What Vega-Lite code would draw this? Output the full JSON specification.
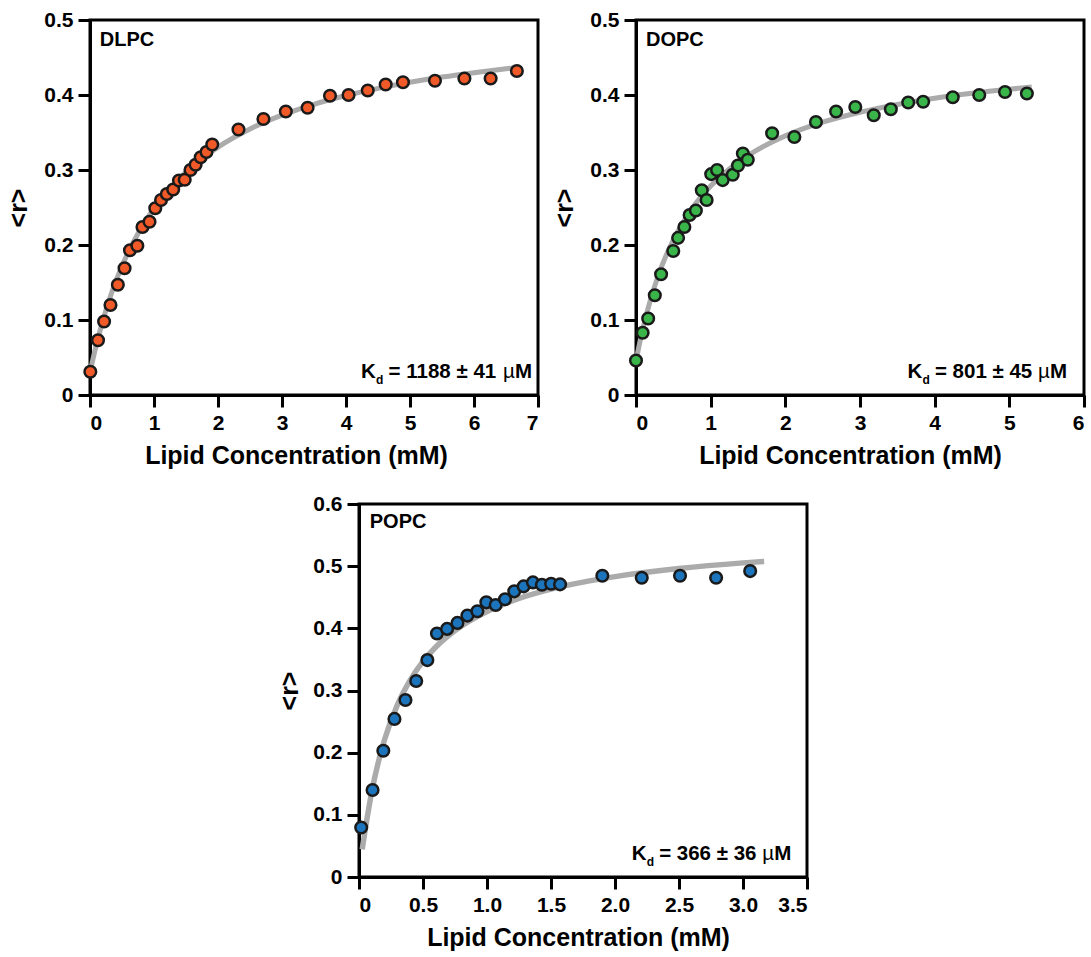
{
  "$schema": "https://vega.github.io/schema/vega-lite/v6.json",
  "background": "white",
  "padding": {"left": 5, "top": 7, "right": 5, "bottom": 5},
  "config": {
    "font": "Liberation Sans",
    "view": {"stroke": "black", "strokeWidth": 3},
    "axis": {"grid": false, "domainColor": "black", "domainWidth": 3, "tickColor": "black", "tickWidth": 3, "tickSize": 12, "labelFont": "Liberation Sans", "labelFontWeight": "bold", "labelFontSize": 21, "labelColor": "black", "labelPadding": 5, "titleFont": "Liberation Sans", "titleFontWeight": "bold", "titleFontSize": 25, "titleColor": "black"},
    "axisX": {"titlePadding": 10},
    "axisY": {"titlePadding": 12},
    "text": {"font": "Liberation Sans", "fontWeight": "bold", "color": "black"}
  },
  "datasets": {
    "dlpc": [
      {"x": 0.005, "y": 0.031}, {"x": 0.125, "y": 0.073}, {"x": 0.22, "y": 0.098}, {"x": 0.32, "y": 0.120}, {"x": 0.435, "y": 0.147}, {"x": 0.54, "y": 0.169}, {"x": 0.625, "y": 0.193}, {"x": 0.74, "y": 0.199}, {"x": 0.82, "y": 0.224}, {"x": 0.93, "y": 0.231}, {"x": 1.02, "y": 0.249}, {"x": 1.11, "y": 0.260}, {"x": 1.20, "y": 0.268}, {"x": 1.30, "y": 0.274}, {"x": 1.39, "y": 0.286}, {"x": 1.48, "y": 0.287}, {"x": 1.57, "y": 0.300}, {"x": 1.65, "y": 0.307}, {"x": 1.73, "y": 0.317}, {"x": 1.82, "y": 0.324}, {"x": 1.91, "y": 0.334}, {"x": 2.32, "y": 0.354}, {"x": 2.71, "y": 0.368}, {"x": 3.06, "y": 0.378}, {"x": 3.40, "y": 0.383}, {"x": 3.75, "y": 0.399}, {"x": 4.04, "y": 0.400}, {"x": 4.34, "y": 0.406}, {"x": 4.62, "y": 0.414}, {"x": 4.89, "y": 0.417}, {"x": 5.39, "y": 0.419}, {"x": 5.85, "y": 0.422}, {"x": 6.26, "y": 0.422}, {"x": 6.67, "y": 0.432}
    ],
    "dlpc_fit": [
      {"x": 0, "y": 0.030}, {"x": 0.05, "y": 0.0494}, {"x": 0.1, "y": 0.0672}, {"x": 0.2, "y": 0.099}, {"x": 0.3, "y": 0.1266}, {"x": 0.4, "y": 0.1507}, {"x": 0.5, "y": 0.1719}, {"x": 0.75, "y": 0.2154}, {"x": 1, "y": 0.2489}, {"x": 1.25, "y": 0.2756}, {"x": 1.5, "y": 0.2973}, {"x": 1.75, "y": 0.3153}, {"x": 2, "y": 0.3305}, {"x": 2.5, "y": 0.3547}, {"x": 3, "y": 0.3731}, {"x": 3.5, "y": 0.3876}, {"x": 4, "y": 0.3993}, {"x": 4.5, "y": 0.4089}, {"x": 5, "y": 0.417}, {"x": 5.5, "y": 0.4239}, {"x": 6, "y": 0.4298}, {"x": 6.5, "y": 0.435}, {"x": 6.7, "y": 0.4369}
    ],
    "dlpc_txt": [{"x": 0.153, "y": 0.4655, "name": "DLPC"}],
    "dlpc_kd": [{"x": 4.236, "y": 0.0222, "k": "K", "sub": "d", "rest": "= 1188 ± 41", "mu": "µ", "unit": "M"}],
    "dopc": [
      {"x": 0.0, "y": 0.046}, {"x": 0.089, "y": 0.083}, {"x": 0.163, "y": 0.102}, {"x": 0.252, "y": 0.133}, {"x": 0.336, "y": 0.161}, {"x": 0.499, "y": 0.192}, {"x": 0.564, "y": 0.2095}, {"x": 0.648, "y": 0.224}, {"x": 0.718, "y": 0.240}, {"x": 0.802, "y": 0.246}, {"x": 0.881, "y": 0.273}, {"x": 0.946, "y": 0.260}, {"x": 1.007, "y": 0.2945}, {"x": 1.086, "y": 0.300}, {"x": 1.161, "y": 0.2865}, {"x": 1.296, "y": 0.2936}, {"x": 1.366, "y": 0.306}, {"x": 1.431, "y": 0.322}, {"x": 1.497, "y": 0.3136}, {"x": 1.823, "y": 0.349}, {"x": 2.121, "y": 0.344}, {"x": 2.41, "y": 0.364}, {"x": 2.68, "y": 0.378}, {"x": 2.937, "y": 0.384}, {"x": 3.184, "y": 0.373}, {"x": 3.413, "y": 0.381}, {"x": 3.646, "y": 0.390}, {"x": 3.846, "y": 0.391}, {"x": 4.242, "y": 0.397}, {"x": 4.597, "y": 0.400}, {"x": 4.942, "y": 0.404}, {"x": 5.235, "y": 0.402}
    ],
    "dopc_fit": [
      {"x": 0, "y": 0.045}, {"x": 0.05, "y": 0.0697}, {"x": 0.1, "y": 0.0917}, {"x": 0.2, "y": 0.1291}, {"x": 0.3, "y": 0.1597}, {"x": 0.4, "y": 0.1852}, {"x": 0.5, "y": 0.2067}, {"x": 0.75, "y": 0.2485}, {"x": 1, "y": 0.2786}, {"x": 1.25, "y": 0.3015}, {"x": 1.5, "y": 0.3193}, {"x": 1.75, "y": 0.3337}, {"x": 2, "y": 0.3455}, {"x": 2.5, "y": 0.3637}, {"x": 3, "y": 0.377}, {"x": 3.5, "y": 0.3874}, {"x": 4, "y": 0.3956}, {"x": 4.5, "y": 0.4022}, {"x": 5, "y": 0.4077}, {"x": 5.3, "y": 0.4106}
    ],
    "dopc_txt": [{"x": 0.134, "y": 0.4655, "name": "DOPC"}],
    "dopc_kd": [{"x": 3.635, "y": 0.0222, "k": "K", "sub": "d", "rest": "= 801 ± 45", "mu": "µ", "unit": "M"}],
    "popc": [
      {"x": 0.017, "y": 0.0796}, {"x": 0.106, "y": 0.140}, {"x": 0.19, "y": 0.203}, {"x": 0.277, "y": 0.2543}, {"x": 0.363, "y": 0.2848}, {"x": 0.447, "y": 0.3152}, {"x": 0.534, "y": 0.3489}, {"x": 0.609, "y": 0.3916}, {"x": 0.688, "y": 0.3991}, {"x": 0.769, "y": 0.4087}, {"x": 0.847, "y": 0.4205}, {"x": 0.925, "y": 0.4274}, {"x": 0.995, "y": 0.4418}, {"x": 1.068, "y": 0.4376}, {"x": 1.141, "y": 0.4467}, {"x": 1.213, "y": 0.4595}, {"x": 1.286, "y": 0.4675}, {"x": 1.359, "y": 0.4739}, {"x": 1.429, "y": 0.4702}, {"x": 1.501, "y": 0.4718}, {"x": 1.571, "y": 0.4707}, {"x": 1.901, "y": 0.4846}, {"x": 2.209, "y": 0.4814}, {"x": 2.508, "y": 0.4846}, {"x": 2.79, "y": 0.4814}, {"x": 3.056, "y": 0.4921}
    ],
    "popc_fit": [
      {"x": 0.025, "y": 0.0445}, {"x": 0.05, "y": 0.0777}, {"x": 0.1, "y": 0.1375}, {"x": 0.15, "y": 0.184}, {"x": 0.2, "y": 0.2212}, {"x": 0.3, "y": 0.277}, {"x": 0.4, "y": 0.3168}, {"x": 0.5, "y": 0.3468}, {"x": 0.6, "y": 0.370}, {"x": 0.75, "y": 0.3966}, {"x": 1, "y": 0.4272}, {"x": 1.25, "y": 0.448}, {"x": 1.5, "y": 0.463}, {"x": 1.75, "y": 0.4744}, {"x": 2, "y": 0.4832}, {"x": 2.5, "y": 0.4962}, {"x": 3, "y": 0.5053}, {"x": 3.165, "y": 0.5077}
    ],
    "popc_txt": [{"x": 0.084, "y": 0.561, "name": "POPC"}],
    "popc_kd": [{"x": 2.13, "y": 0.0273, "k": "K", "sub": "d", "rest": "= 366 ± 36", "mu": "µ", "unit": "M"}]
  },
  "spacing": 21,
  "vconcat": [
    {
      "spacing": 10,
      "hconcat": [
        {
          "width": 448, "height": 375,
          "encoding": {
            "x": {"field": "x", "type": "quantitative", "scale": {"domain": [0, 7], "nice": false, "zero": false}, "axis": {"values": [0, 1, 2, 3, 4, 5, 6, 7], "format": "d", "title": "Lipid Concentration (mM)", "titleX": 206}},
            "y": {"field": "y", "type": "quantitative", "scale": {"domain": [0, 0.5], "nice": false, "zero": false}, "axis": {"values": [0, 0.1, 0.2, 0.3, 0.4, 0.5], "labelExpr": "datum.value == 0 ? '0' : format(datum.value, '.1f')", "title": "<r>"}}
          },
          "layer": [
            {"data": {"name": "dlpc_fit"}, "mark": {"type": "line", "color": "#ababab", "strokeWidth": 5, "interpolate": "monotone"}, "encoding": {}},
            {"data": {"name": "dlpc"}, "mark": {"type": "circle", "size": 135, "opacity": 1, "fill": "#F05A28", "stroke": "#1a1a1a", "strokeWidth": 2.5}},
            {"data": {"name": "dlpc_txt"}, "mark": {"type": "text", "fontSize": 20, "align": "left", "baseline": "alphabetic"}, "encoding": {"text": {"field": "name"}}},
            {"data": {"name": "dlpc_kd"}, "mark": {"type": "text", "fontSize": 20.5, "align": "left", "baseline": "alphabetic"}, "encoding": {"text": {"field": "k"}}},
            {"data": {"name": "dlpc_kd"}, "mark": {"type": "text", "fontSize": 12, "align": "left", "baseline": "alphabetic", "dx": 15, "dy": 6}, "encoding": {"text": {"field": "sub"}}},
            {"data": {"name": "dlpc_kd"}, "mark": {"type": "text", "fontSize": 20.5, "align": "left", "baseline": "alphabetic", "dx": 27.5}, "encoding": {"text": {"field": "rest"}}},
            {"data": {"name": "dlpc_kd"}, "mark": {"type": "text", "fontSize": 20.5, "fontWeight": "normal", "align": "left", "baseline": "alphabetic", "dx": 142}, "encoding": {"text": {"field": "mu"}}},
            {"data": {"name": "dlpc_kd"}, "mark": {"type": "text", "fontSize": 20.5, "align": "left", "baseline": "alphabetic", "dx": 154}, "encoding": {"text": {"field": "unit"}}}
          ]
        },
        {
          "width": 448, "height": 375,
          "encoding": {
            "x": {"field": "x", "type": "quantitative", "scale": {"domain": [0, 6], "nice": false, "zero": false}, "axis": {"values": [0, 1, 2, 3, 4, 5, 6], "format": "d", "title": "Lipid Concentration (mM)", "titleX": 214}},
            "y": {"field": "y", "type": "quantitative", "scale": {"domain": [0, 0.5], "nice": false, "zero": false}, "axis": {"values": [0, 0.1, 0.2, 0.3, 0.4, 0.5], "labelExpr": "datum.value == 0 ? '0' : format(datum.value, '.1f')", "title": "<r>"}}
          },
          "layer": [
            {"data": {"name": "dopc_fit"}, "mark": {"type": "line", "color": "#ababab", "strokeWidth": 5, "interpolate": "monotone"}, "encoding": {}},
            {"data": {"name": "dopc"}, "mark": {"type": "circle", "size": 135, "opacity": 1, "fill": "#39B54A", "stroke": "#1a1a1a", "strokeWidth": 2.5}},
            {"data": {"name": "dopc_txt"}, "mark": {"type": "text", "fontSize": 20, "align": "left", "baseline": "alphabetic"}, "encoding": {"text": {"field": "name"}}},
            {"data": {"name": "dopc_kd"}, "mark": {"type": "text", "fontSize": 20.5, "align": "left", "baseline": "alphabetic"}, "encoding": {"text": {"field": "k"}}},
            {"data": {"name": "dopc_kd"}, "mark": {"type": "text", "fontSize": 12, "align": "left", "baseline": "alphabetic", "dx": 15, "dy": 6}, "encoding": {"text": {"field": "sub"}}},
            {"data": {"name": "dopc_kd"}, "mark": {"type": "text", "fontSize": 20.5, "align": "left", "baseline": "alphabetic", "dx": 27.5}, "encoding": {"text": {"field": "rest"}}},
            {"data": {"name": "dopc_kd"}, "mark": {"type": "text", "fontSize": 20.5, "fontWeight": "normal", "align": "left", "baseline": "alphabetic", "dx": 130.5}, "encoding": {"text": {"field": "mu"}}},
            {"data": {"name": "dopc_kd"}, "mark": {"type": "text", "fontSize": 20.5, "align": "left", "baseline": "alphabetic", "dx": 142.5}, "encoding": {"text": {"field": "unit"}}}
          ]
        }
      ]
    },
    {
      "spacing": 0,
      "hconcat": [
        {
          "width": 186, "height": 10,
          "view": {"stroke": null},
          "data": {"values": []},
          "mark": {"type": "point", "opacity": 0}
        },
        {
          "width": 448, "height": 373,
          "encoding": {
            "x": {"field": "x", "type": "quantitative", "scale": {"domain": [0, 3.5], "nice": false, "zero": false}, "axis": {"values": [0, 0.5, 1, 1.5, 2, 2.5, 3, 3.5], "labelExpr": "datum.value == 0 ? '0' : format(datum.value, '.1f')", "title": "Lipid Concentration (mM)", "titleX": 219}},
            "y": {"field": "y", "type": "quantitative", "scale": {"domain": [0, 0.6], "nice": false, "zero": false}, "axis": {"values": [0, 0.1, 0.2, 0.3, 0.4, 0.5, 0.6], "labelExpr": "datum.value == 0 ? '0' : format(datum.value, '.1f')", "title": "<r>", "titlePadding": 10}}
          },
          "layer": [
            {"data": {"name": "popc_fit"}, "mark": {"type": "line", "color": "#ababab", "strokeWidth": 5.5, "interpolate": "monotone"}, "encoding": {}},
            {"data": {"name": "popc"}, "mark": {"type": "circle", "size": 135, "opacity": 1, "fill": "#1C75BC", "stroke": "#1a1a1a", "strokeWidth": 2.5}},
            {"data": {"name": "popc_txt"}, "mark": {"type": "text", "fontSize": 20, "align": "left", "baseline": "alphabetic"}, "encoding": {"text": {"field": "name"}}},
            {"data": {"name": "popc_kd"}, "mark": {"type": "text", "fontSize": 20.5, "align": "left", "baseline": "alphabetic"}, "encoding": {"text": {"field": "k"}}},
            {"data": {"name": "popc_kd"}, "mark": {"type": "text", "fontSize": 12, "align": "left", "baseline": "alphabetic", "dx": 15, "dy": 6}, "encoding": {"text": {"field": "sub"}}},
            {"data": {"name": "popc_kd"}, "mark": {"type": "text", "fontSize": 20.5, "align": "left", "baseline": "alphabetic", "dx": 27.5}, "encoding": {"text": {"field": "rest"}}},
            {"data": {"name": "popc_kd"}, "mark": {"type": "text", "fontSize": 20.5, "fontWeight": "normal", "align": "left", "baseline": "alphabetic", "dx": 130.5}, "encoding": {"text": {"field": "mu"}}},
            {"data": {"name": "popc_kd"}, "mark": {"type": "text", "fontSize": 20.5, "align": "left", "baseline": "alphabetic", "dx": 142.5}, "encoding": {"text": {"field": "unit"}}}
          ]
        }
      ]
    }
  ]
}
